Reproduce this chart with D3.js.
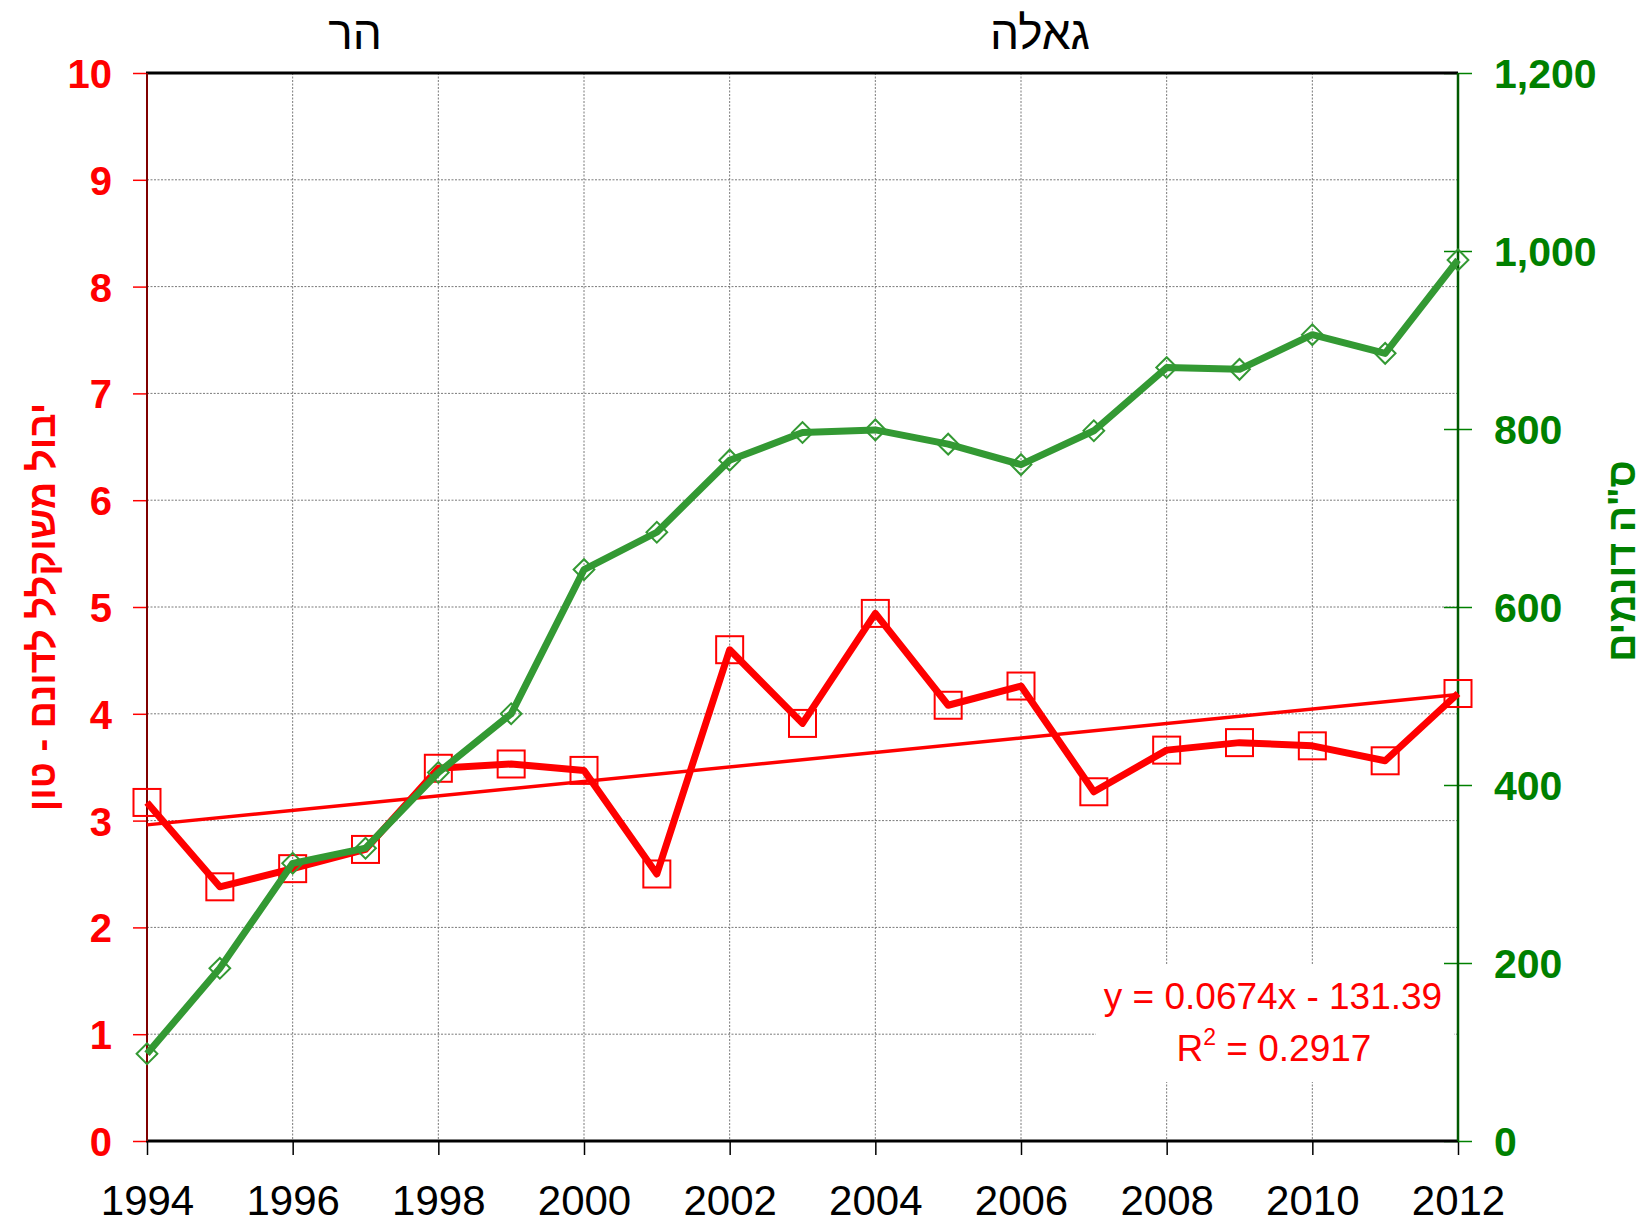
<!DOCTYPE html>
<html>
<head>
<meta charset="utf-8">
<script src="https://cdn.jsdelivr.net/npm/d3@7/dist/d3.min.js"></script>
<style>
    html, body { margin: 0; padding: 0; background: #fff; }
    svg { display: block; font-family: "Liberation Sans", Arial, sans-serif; }
</style>
</head>
<body>
<div id="viz"></div>
<script>
const years = [1994, 1995, 1996, 1997, 1998, 1999, 2000, 2001, 2002, 2003,
               2004, 2005, 2006, 2007, 2008, 2009, 2010, 2011, 2012];

// weighted yield per dunam (tons) - left axis
const yieldValues = [3.17, 2.38, 2.55, 2.73, 3.49, 3.53, 3.47, 2.50, 4.60, 3.91,
                     4.94, 4.08, 4.26, 3.27, 3.66, 3.73, 3.70, 3.56, 4.19];

// total dunams - right axis
const areaValues = [98, 194, 312, 329, 414, 480, 642, 684, 765, 796,
                    799, 783, 760, 798, 869, 867, 906, 885, 990];

// linear trend of the yield series (end points)
const trendYears = [1994, 2012];
const trendValues = [2.96, 4.18];

const xTicks = [1994, 1996, 1998, 2000, 2002, 2004, 2006, 2008, 2010, 2012];
const leftTicks = [0, 1, 2, 3, 4, 5, 6, 7, 8, 9, 10];
const rightTicks = [0, 200, 400, 600, 800, 1000, 1200];

const equationLines = ['y = 0.0674x - 131.39', 'R', '2', ' = 0.2917'];

const RED = '#ff0000',
      GREEN = '#339933',
      DARK_GREEN = '#008000';

let svg,
    x,
    yLeft,
    yRight;

const margin = { left: 147, right: 1458, top: 73, bottom: 1141 };

function setScales() {
    x = d3.scaleLinear().domain([1994, 2012]).range([margin.left, margin.right]);
    yLeft = d3.scaleLinear().domain([0, 10]).range([margin.bottom, margin.top]);
    yRight = d3.scaleLinear().domain([0, 1200]).range([margin.bottom, margin.top]);
}

function drawGrid() {
    const grid = svg.append('g')
        .attr('stroke', '#7a7a7a')
        .attr('stroke-width', 1)
        .attr('stroke-dasharray', '2,1.5');

    grid.selectAll('line.h')
        .data(leftTicks.filter(d => d > 0 && d < 10))
        .enter().append('line')
        .attr('x1', margin.left)
        .attr('x2', margin.right)
        .attr('y1', d => yLeft(d))
        .attr('y2', d => yLeft(d));

    grid.selectAll('line.v')
        .data(xTicks.filter(d => d > 1994 && d < 2012))
        .enter().append('line')
        .attr('x1', d => x(d))
        .attr('x2', d => x(d))
        .attr('y1', margin.top)
        .attr('y2', margin.bottom);
}

function drawAxes() {
    // bottom axis
    const bottom = svg.append('g')
        .attr('transform', `translate(0,${margin.bottom})`)
        .call(d3.axisBottom(x).tickValues(xTicks).tickFormat(d3.format('d')).tickSize(14).tickPadding(30));
    bottom.select('.domain').remove();
    bottom.selectAll('line').attr('stroke', '#000').attr('stroke-width', 1.5);
    bottom.selectAll('text')
        .attr('fill', '#000')
        .style('font-size', '42px');

    // left axis
    const left = svg.append('g')
        .attr('transform', `translate(${margin.left},0)`)
        .call(d3.axisLeft(yLeft).tickValues(leftTicks).tickSize(14).tickPadding(21));
    left.select('.domain').remove();
    left.selectAll('line').attr('stroke', RED).attr('stroke-width', 1.5);
    left.selectAll('text')
        .attr('fill', RED)
        .attr('dy', '0.36em')
        .style('font-size', '40px')
        .style('font-weight', 'bold');

    // right axis
    const right = svg.append('g')
        .attr('transform', `translate(${margin.right},0)`)
        .call(d3.axisRight(yRight).tickValues(rightTicks).tickFormat(d3.format(',')).tickSize(14).tickPadding(22));
    right.select('.domain').remove();
    right.selectAll('line')
        .attr('x1', -14)
        .attr('stroke', DARK_GREEN)
        .attr('stroke-width', 1.5);
    right.selectAll('text')
        .attr('fill', DARK_GREEN)
        .attr('dy', '0.36em')
        .style('font-size', '41px')
        .style('font-weight', 'bold');

    // frame lines
    svg.append('line')
        .attr('x1', margin.left - 1).attr('x2', margin.right)
        .attr('y1', margin.top).attr('y2', margin.top)
        .attr('stroke', '#000').attr('stroke-width', 3);
    svg.append('line')
        .attr('x1', margin.left - 1).attr('x2', margin.right)
        .attr('y1', margin.bottom).attr('y2', margin.bottom)
        .attr('stroke', '#000').attr('stroke-width', 3);
    svg.append('line')
        .attr('x1', margin.left).attr('x2', margin.left)
        .attr('y1', margin.top).attr('y2', margin.bottom)
        .attr('stroke', '#800000').attr('stroke-width', 2);
    svg.append('line')
        .attr('x1', margin.right).attr('x2', margin.right)
        .attr('y1', margin.top).attr('y2', margin.bottom)
        .attr('stroke', '#005a00').attr('stroke-width', 2.5);
}

function drawEquation() {
    svg.append('rect')
        .attr('x', 1096)
        .attr('y', 965)
        .attr('width', margin.right - 1096 - 4)
        .attr('height', 117)
        .attr('fill', '#fff');

    svg.append('text')
        .attr('x', 1273)
        .attr('y', 1009)
        .attr('text-anchor', 'middle')
        .attr('fill', RED)
        .style('font-size', '37px')
        .text(equationLines[0]);

    const second = svg.append('text')
        .attr('x', 1274)
        .attr('y', 1061)
        .attr('text-anchor', 'middle')
        .attr('fill', RED)
        .style('font-size', '37px');
    second.append('tspan').text(equationLines[1]);
    second.append('tspan').attr('dy', -16).style('font-size', '23px').text(equationLines[2]);
    second.append('tspan').attr('dy', 16).text(equationLines[3]);
}

function drawYield() {
    const line = d3.line()
        .x((d, i) => x(years[i]))
        .y(d => yLeft(d));

    svg.append('path')
        .datum(yieldValues)
        .attr('d', line)
        .attr('fill', 'none')
        .attr('stroke', RED)
        .attr('stroke-width', 7)
        .attr('stroke-linejoin', 'round');

    const size = 27;
    svg.append('g').selectAll('rect')
        .data(yieldValues)
        .enter().append('rect')
        .attr('x', (d, i) => x(years[i]) - size / 2)
        .attr('y', d => yLeft(d) - size / 2)
        .attr('width', size)
        .attr('height', size)
        .attr('fill', 'none')
        .attr('stroke', RED)
        .attr('stroke-width', 2);

    svg.append('path')
        .datum(trendValues)
        .attr('d', d3.line().x((d, i) => x(trendYears[i])).y(d => yLeft(d)))
        .attr('fill', 'none')
        .attr('stroke', RED)
        .attr('stroke-width', 3.5);
}

function drawArea() {
    const line = d3.line()
        .x((d, i) => x(years[i]))
        .y(d => yRight(d));

    svg.append('path')
        .datum(areaValues)
        .attr('d', line)
        .attr('fill', 'none')
        .attr('stroke', GREEN)
        .attr('stroke-width', 7)
        .attr('stroke-linejoin', 'round');

    const diamond = d3.symbol().type(d3.symbolSquare).size(215);
    svg.append('g').selectAll('path')
        .data(areaValues)
        .enter().append('path')
        .attr('d', diamond)
        .attr('transform', (d, i) => `translate(${x(years[i])},${yRight(d)}) rotate(45)`)
        .attr('fill', 'none')
        .attr('stroke', GREEN)
        .attr('stroke-width', 2);
}

function drawTitles() {
    svg.append('text')
        .attr('x', 355)
        .attr('y', 49)
        .attr('text-anchor', 'middle')
        .attr('fill', '#000')
        .style('font-size', '46px')
        .text('הר');

    svg.append('text')
        .attr('x', 1040)
        .attr('y', 49)
        .attr('text-anchor', 'middle')
        .attr('fill', '#000')
        .style('font-size', '46px')
        .text('גאלה');

    svg.append('text')
        .attr('transform', 'translate(55,607) rotate(-90)')
        .attr('text-anchor', 'middle')
        .attr('direction', 'rtl')
        .attr('fill', RED)
        .style('font-size', '38px')
        .style('font-weight', 'bold')
        .text('יבול משוקלל לדונם - טון');

    svg.append('text')
        .attr('transform', 'translate(1635,561) rotate(-90)')
        .attr('text-anchor', 'middle')
        .attr('direction', 'rtl')
        .attr('fill', DARK_GREEN)
        .style('font-size', '39px')
        .style('font-weight', 'bold')
        .text('ס"ה דונמים');
}

function placeChart() {
    svg = d3.select('#viz').append('svg')
        .attr('width', 1642)
        .attr('height', 1224);

    setScales();
    drawGrid();
    drawEquation();
    drawAxes();
    drawYield();
    drawArea();
    drawTitles();
}

placeChart();
</script>
</body>
</html>
